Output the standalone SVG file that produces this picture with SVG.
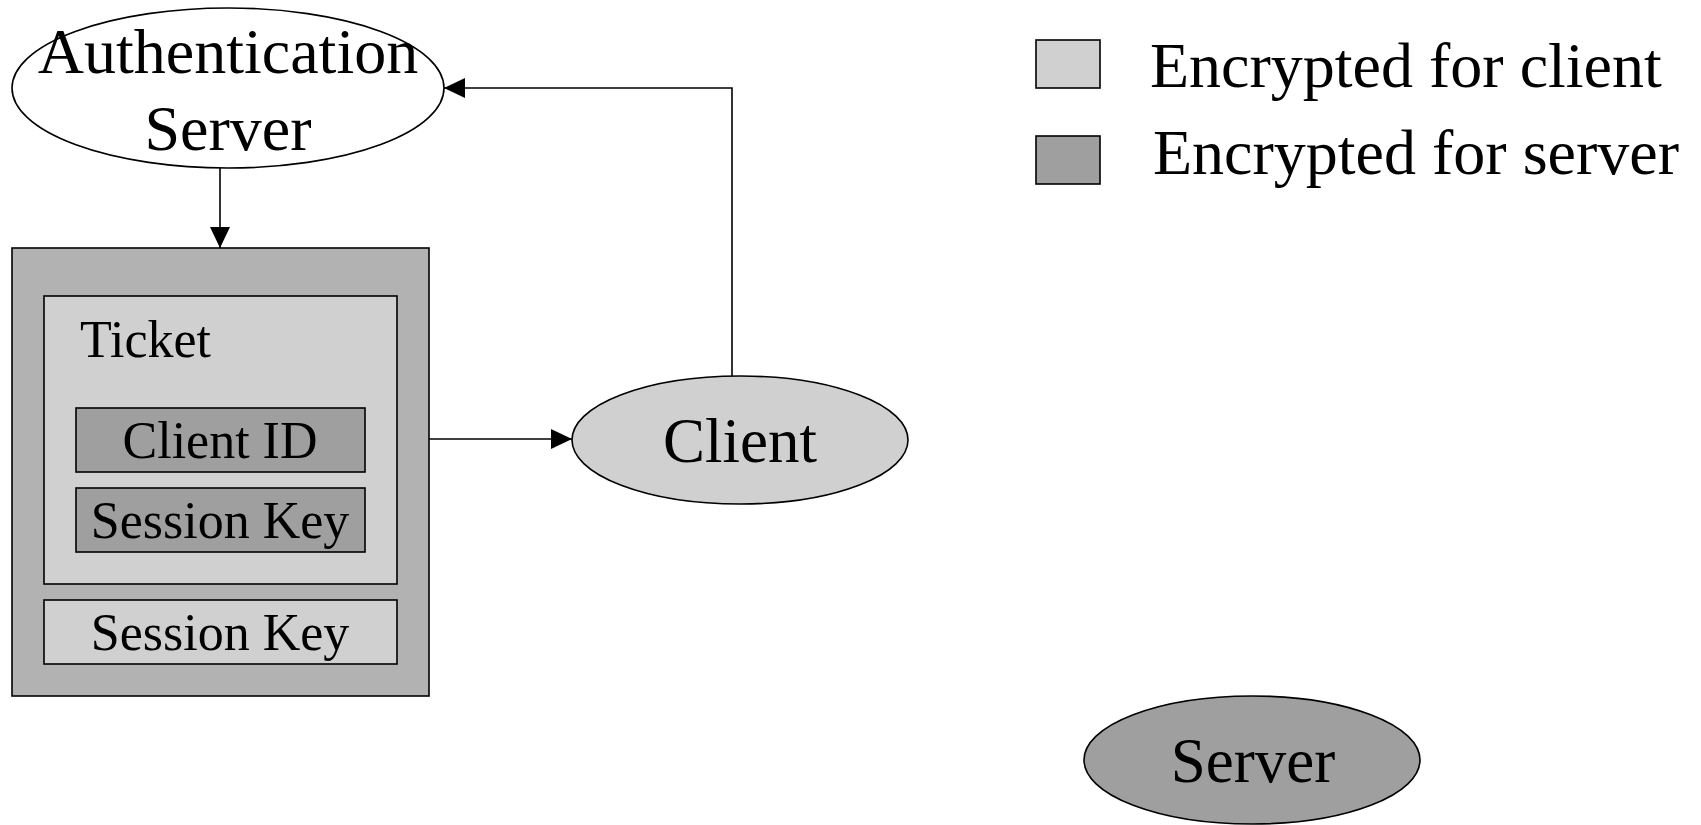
<svg xmlns="http://www.w3.org/2000/svg" width="1701" height="825" viewBox="0 0 1701 825">
  <style>
    text { font-family: "Liberation Serif", "Times New Roman", serif; fill: #000; }
    .big { font-size: 63px; }
    .key { font-size: 64px; }
    .mid { font-size: 52px; }
    .line { stroke: #000; stroke-width: 1.6; fill: none; }
    .shape { stroke: #000; stroke-width: 1.6; }
    .light { fill: #d0d0d0; }
    .medium { fill: #b2b2b2; }
    .dark { fill: #9f9f9f; }
  </style>
  <defs>
    <marker id="arrow" viewBox="0 0 21 20" refX="21" refY="10" markerWidth="21" markerHeight="20" markerUnits="userSpaceOnUse" orient="auto">
      <path d="M0,0 L21,10 L0,20 Z" fill="#000"/>
    </marker>
  </defs>
  <rect width="1701" height="825" fill="#fff"/>

  <!-- connectors -->
  <g id="connectors">
    <path class="line" d="M220,168 L220,248" marker-end="url(#arrow)"/>
    <path class="line" d="M429,439 L572,439" marker-end="url(#arrow)"/>
    <path class="line" d="M732,376 L732,88 L444,88" marker-end="url(#arrow)"/>
  </g>

  <!-- authentication server -->
  <g id="auth-server">
    <ellipse class="shape" cx="228" cy="88" rx="216" ry="80" fill="#fff"/>
    <text class="key" x="228" y="73" text-anchor="middle">Authentication</text>
    <text class="key" x="228" y="150" text-anchor="middle">Server</text>
  </g>

  <!-- message from the authentication server -->
  <g id="message">
    <rect class="shape medium" x="12" y="248" width="417" height="448"/>
    <g id="ticket">
      <rect class="shape light" x="44" y="296" width="353" height="288"/>
      <text class="mid" x="80" y="357">Ticket</text>
      <g id="ticket-client-id">
        <rect class="shape dark" x="76" y="408" width="289" height="64"/>
        <text class="mid" x="220" y="458" text-anchor="middle">Client ID</text>
      </g>
      <g id="ticket-session-key">
        <rect class="shape dark" x="76" y="488" width="289" height="64"/>
        <text class="mid" x="220" y="538" text-anchor="middle">Session Key</text>
      </g>
    </g>
    <g id="session-key">
      <rect class="shape light" x="44" y="600" width="353" height="64"/>
      <text class="mid" x="220" y="650" text-anchor="middle">Session Key</text>
    </g>
  </g>

  <!-- client -->
  <g id="client">
    <ellipse class="shape light" cx="740" cy="440" rx="168" ry="64"/>
    <text class="big" x="740" y="462" text-anchor="middle">Client</text>
  </g>

  <!-- server -->
  <g id="server">
    <ellipse class="shape dark" cx="1252" cy="760" rx="168" ry="64"/>
    <text class="big" x="1253" y="782" text-anchor="middle">Server</text>
  </g>

  <!-- legend -->
  <g id="legend">
    <rect class="shape light" x="1036" y="40" width="64" height="48"/>
    <text class="key" x="1150" y="87">Encrypted for client</text>
    <rect class="shape dark" x="1036" y="136" width="64" height="48"/>
    <text class="key" x="1153" y="174">Encrypted for server</text>
  </g>
</svg>
